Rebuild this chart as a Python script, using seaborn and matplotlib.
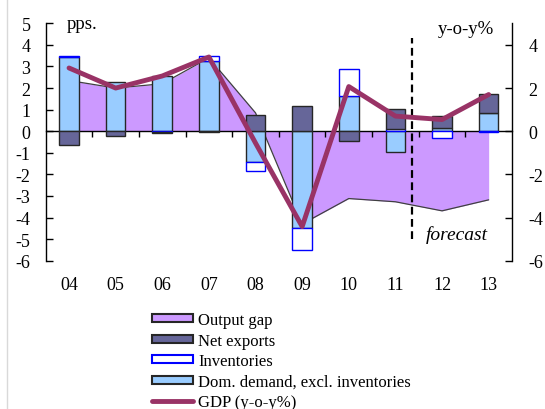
import matplotlib.pyplot as plt
import matplotlib.patches as mpatches
from matplotlib.lines import Line2D
import numpy as np
import seaborn as sns

years = ['04', '05', '06', '07', '08', '09', '10', '11', '12', '13']
dom_demand = [3.45, 2.28, 2.56, 3.25, -1.42, -4.5, 1.63, -0.95, 0.15, 0.84]
inventories = [0.05, 0.0, -0.03, 0.25, -0.44, -1.0, 1.27, 0.1, -0.3, -0.03]
net_exports = [-0.62, -0.2, -0.03, -0.03, 0.73, 1.16, -0.47, 0.95, 0.55, 0.89]
output_gap = [2.35, 2.0, 2.2, 3.4, 0.85, -4.3, -3.12, -3.27, -3.69, -3.18]
gdp = [2.93, 2.0, 2.56, 3.44, -0.55, -4.42, 2.07, 0.7, 0.54, 1.7]
forecast_x = 7.35  # dashed line between 11 and 12

c_gap = '#CC99FF'
c_nx = '#666699'
c_dom = '#99CCFF'
c_inv = '#0000FF'
c_gdp = '#993366'
c_edge = '#262626'

sns.set_theme(style='ticks')
plt.rcParams['font.family'] = ['Liberation Serif', 'DejaVu Serif']
plt.rcParams['axes.unicode_minus'] = False
plt.rcParams['text.color'] = 'black'
plt.rcParams['xtick.color'] = 'black'
plt.rcParams['ytick.color'] = 'black'

x = np.arange(len(years))
fig = plt.figure(figsize=(5.45, 4.1), dpi=100)
ax = fig.add_axes([0.0839, 0.3617, 0.8555, 0.579])

# output gap area (behind the bars)
ax.fill_between(x, output_gap, 0, color=c_gap, lw=0, zorder=1)
sns.lineplot(x=x, y=output_gap, ax=ax, color='#404040', lw=0.9, zorder=1.5)

# stacked bars: dom. demand, inventories, net exports
pos_base = np.zeros(len(x))
neg_base = np.zeros(len(x))
for vals, fc, ec in [(dom_demand, c_dom, c_edge),
                     (inventories, 'white', c_inv),
                     (net_exports, c_nx, c_edge)]:
    v = np.array(vals)
    bottom = np.where(v >= 0, pos_base, neg_base)
    ax.bar(x, v, 0.42, bottom=bottom, color=fc, edgecolor=ec,
           linewidth=np.where(v == 0, 0, 1.0), zorder=2)
    pos_base += np.clip(v, 0, None)
    neg_base += np.clip(v, None, 0)

ax.set_xlim(-0.5, 9.5)
ax.set_ylim(-6, 5)
ax.set_yticks(range(-6, 6))
ax.set_xticks(x, years)
ax.tick_params(axis='x', length=0, pad=11, labelsize=13)
ax.tick_params(axis='y', direction='in', length=5, width=1, pad=11, labelsize=13)
ax.spines[['top', 'right', 'bottom']].set_visible(False)
ax.spines['left'].set_color('black')
ax.spines['left'].set_linewidth(1)
ax.set_xlabel('')
ax.set_ylabel('')

# zero line with category separators
zero = ax.secondary_xaxis(6 / 11)
zero.set_alignment('bottom')
zero.set_xticks(x[:-1] + 0.5, labels=[])
zero.tick_params(direction='out', length=4, width=1, color='black')
zero.spines['bottom'].set_color('black')
zero.spines['bottom'].set_linewidth(1)
zero.set_zorder(1.8)

# forecast marker
ax.vlines(forecast_x, -5, 4.3, colors='black', lw=1.6, linestyles=(0, (3.5, 2)), zorder=3)
ax.text(7.66, -4.78, 'forecast', fontsize=14, style='italic', va='center', ha='left')
ax.text(-0.05, 4.79, 'pps.', fontsize=13.5, va='baseline', ha='left', clip_on=False)
ax.text(7.91, 4.57, 'y-o-y%', fontsize=13.5, va='baseline', ha='left', clip_on=False)

# GDP on the right axis
ax2 = ax.twinx()
sns.lineplot(x=x, y=gdp, ax=ax2, color=c_gdp, lw=3.5)
ax2.set_ylim(-6, 5)
ax2.set_yticks(range(-6, 5, 2))
ax2.set_xlim(-0.5, 9.5)
ax2.tick_params(axis='y', direction='in', length=5, width=1, pad=12, labelsize=13)
ax2.spines[['top', 'left', 'bottom']].set_visible(False)
ax2.spines['right'].set_color('black')
ax2.spines['right'].set_linewidth(1)
ax2.set_ylabel('')

handles = [mpatches.Patch(fc=c_gap, ec=c_edge, lw=1.5),
           mpatches.Patch(fc=c_nx, ec=c_edge, lw=1.5),
           mpatches.Patch(fc='white', ec=c_inv, lw=1.5),
           mpatches.Patch(fc=c_dom, ec=c_edge, lw=1.5),
           Line2D([], [], color=c_gdp, lw=3.5)]
labels = ['Output gap', 'Net exports', 'Inventories',
          'Dom. demand, excl. inventories', 'GDP (y-o-y%)']
fig.legend(handles, labels, loc='upper left', bbox_to_anchor=(0.278, 0.236),
           frameon=False, fontsize=12, handlelength=2.5, handleheight=0.4,
           handletextpad=0.3, labelspacing=0.27, borderpad=0, borderaxespad=0)

fig.add_artist(Line2D([0.0125, 0.0125], [0, 1], transform=fig.transFigure,
                      color='#D9D9D9', lw=1))

fig.savefig('out.png', dpi=100)
